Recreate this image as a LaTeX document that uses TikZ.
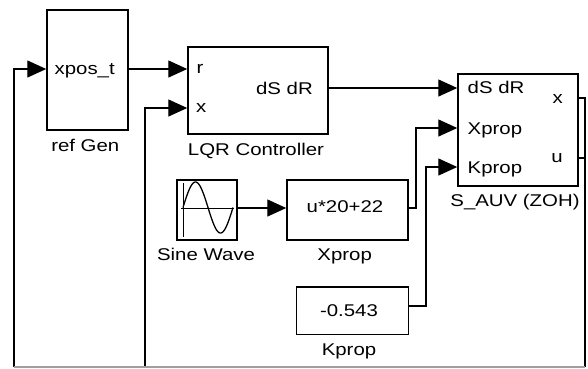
\documentclass[tikz,border=0pt]{standalone}
\usepackage{fontspec}
\setmainfont[FakeStretch=1.2]{Liberation Sans}
\usetikzlibrary{arrows.meta}
\begin{document}
\begin{tikzpicture}[x=1pt,y=-1pt,
  blk/.style={draw,line width=1.5pt,inner sep=0pt},
  conn/.style={line width=1.4pt},
  arr/.style={conn,-{Triangle[length=19pt,width=17pt]}},
  txt/.style={inner sep=0pt,font=\fontsize{17}{19}\selectfont}]
\useasboundingbox (0,0) rectangle (588,368);
% blocks
\node[blk,minimum width=81pt,minimum height=120pt] (refgen) at (87.5,70) {};
\node[blk,minimum width=140pt,minimum height=87pt] (lqr) at (258,90.5) {};
\node[blk,minimum width=120pt,minimum height=112pt] (sauv) at (518,130) {};
\node[blk,minimum width=60pt,minimum height=60pt] (sine) at (207,210) {};
\node[blk,minimum width=121pt,minimum height=60pt] (xprop) at (347.5,210) {};
\node[blk,minimum width=112pt,minimum height=47.5pt] (kprop) at (352.5,310.5) {};
% sine icon
\draw[line width=1pt] (183,183) -- (183,237);
\draw[line width=1pt] (181,208) -- (234,208);
\draw[line width=1.3pt] plot[domain=0:360,samples=72,smooth] ({183+\x/360*50},{207.5-25.5*sin(\x)});
% texts
\node[txt,anchor=base] (t1) at (84.7,74) {xpos\_t};
\node[txt,anchor=base] (t2) at (85.3,151) {ref Gen};
\node[txt,anchor=base] (t3) at (256,155) {LQR Controller};
\node[txt,anchor=base west] (t4) at (196.5,73) {r};
\node[txt,anchor=base west] (t5) at (196,112.5) {x};
\node[txt,anchor=base east] (t6) at (313,94) {dS dR};
\node[txt,anchor=base west] (t7) at (467.5,93.3) {dS dR};
\node[txt,anchor=base west] (t8) at (467.5,134) {Xprop};
\node[txt,anchor=base west] (t9) at (467.5,173) {Kprop};
\node[txt,anchor=base east] (t10) at (563,103.3) {x};
\node[txt,anchor=base east] (t11) at (563,162.7) {u};
\node[txt,anchor=base] (t12) at (515,206) {S\_AUV (ZOH)};
\node[txt,anchor=base] (t13) at (345,212) {u*20+22};
\node[txt,anchor=base] (t14) at (344.7,260.5) {Xprop};
\node[txt,anchor=base] (t15) at (206,260.5) {Sine Wave};
\node[txt,anchor=base] (t16) at (349,316.5) {-0.543};
\node[txt,anchor=base] (t17) at (349,355) {Kprop};
% port coordinates
\coordinate (rgIn) at (refgen.west |- 0,69);
\coordinate (rgOut) at (refgen.east |- 0,69);
\coordinate (lqrR) at (lqr.west |- 0,69);
\coordinate (lqrX) at (lqr.west |- 0,108);
\coordinate (lqrOut) at (lqr.east |- 0,88);
\coordinate (sIn1) at (sauv.west |- 0,88);
\coordinate (sIn2) at (sauv.west |- 0,128);
\coordinate (sIn3) at (sauv.west |- 0,167);
\coordinate (sOutX) at (sauv.east |- 0,98);
\coordinate (sOutU) at (sauv.east |- 0,158);
\coordinate (xpOut) at (xprop.east |- 0,208);
\coordinate (kpOut) at (kprop.east |- 0,306);
\coordinate (sineOut) at (sine.east |- 0,208);
\coordinate (xpIn) at (xprop.west |- 0,208);
\coordinate (fbR) at (585,367);
\coordinate (fbA) at (14,367);
\coordinate (fbB) at (145,367);
% connectors
\draw[arr] (fbA) -- (14,69) -- (rgIn);
\draw[arr] (rgOut) -- (lqrR);
\draw[arr] (fbB) -- (145,108) -- (lqrX);
\draw[arr] (lqrOut) -- (sIn1);
\draw[arr] (xpOut) -- (416,208) -- (416,128) -- (sIn2);
\draw[arr] (kpOut) -- (426,306) -- (426,167) -- (sIn3);
\draw[arr] (sineOut) -- (xpIn);
\draw[conn] (sOutX) -- (585,98) -- (fbR);
\draw[conn] (sOutU) -- (585,158);
\draw[conn,gray!75] (fbR) -- (fbA);
\end{tikzpicture}
\end{document}
